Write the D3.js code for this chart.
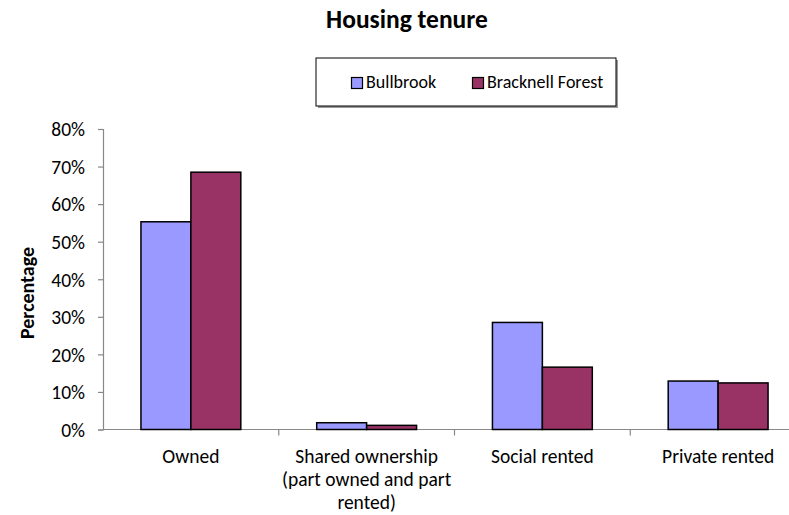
<!DOCTYPE html>
<html><head><meta charset="utf-8">
<script src="https://cdn.jsdelivr.net/npm/d3@7"></script>
<style>
html,body{margin:0;padding:0;background:#fff;}
svg{display:block;font-family:Carlito,Lato,sans-serif;}
</style></head>
<body>
<svg id="c" width="789" height="515"></svg>
<script>
const title = "Housing tenure";
const categories = [["Owned"], ["Shared ownership", "(part owned and part", "rented)"], ["Social rented"], ["Private rented"]];
const seriesNames = ["Bullbrook", "Bracknell Forest"];
const bullbrook = [55.3, 1.8, 28.5, 12.9];
const bracknellForest = [68.5, 1.1, 16.6, 12.4];
const yTicks = [0, 10, 20, 30, 40, 50, 60, 70, 80];
const colors = ["#9999FF", "#993366"];

(function () {
const svg = d3.select("#c");
const pLeft = 103, pRight = 806, pTop = 129, pBottom = 429.5;
const x = d3.scaleBand().domain(d3.range(categories.length)).range([pLeft, pRight]).paddingInner(0).paddingOuter(0);
const x1 = d3.scaleBand().domain(d3.range(seriesNames.length)).range([0, x.bandwidth()]).paddingInner(0).paddingOuter(0.76);
const y = d3.scaleLinear().domain([0, 80]).range([pBottom, pTop]);
const ff = 'Carlito,Lato,sans-serif';

// title
svg.append("text").attr("x", 407).attr("y", 28).attr("text-anchor", "middle")
  .attr("font-size", 25.5).attr("font-weight", "bold").attr("fill", "#000").text(title);

// legend
svg.append("rect").attr("x", 318).attr("y", 60).attr("width", 300).attr("height", 48).attr("fill", "#999");
svg.append("rect").attr("x", 316).attr("y", 58).attr("width", 300).attr("height", 48).attr("fill", "#fff").attr("stroke", "#000").attr("stroke-width", 1);
const legX = [351, 472];
seriesNames.forEach((s, i) => {
  svg.append("rect").attr("x", legX[i] + 0.5).attr("y", 77.5).attr("width", 11).attr("height", 11)
    .attr("fill", colors[i]).attr("stroke", "#000").attr("stroke-width", 1.2);
  svg.append("text").attr("x", legX[i] + 15).attr("y", 88).attr("font-size", 18).attr("fill", "#000").text(s);
});

// y axis
const yAxis = d3.axisLeft(y).tickValues(yTicks).tickFormat(d => d + "%").tickSize(5).tickPadding(13);
const ga = svg.append("g").attr("transform", `translate(${pLeft},0)`).call(yAxis);
ga.select(".domain").attr("stroke", "#888").attr("stroke-width", 1.2);
ga.selectAll(".tick line").attr("stroke", "#888").attr("stroke-width", 1.2);
ga.selectAll(".tick text").attr("font-size", 19.5).attr("font-family", ff).attr("fill", "#000").attr("dy", "0.35em");

// x axis
svg.append("line").attr("x1", pLeft).attr("x2", 789).attr("y1", pBottom).attr("y2", pBottom)
  .attr("stroke", "#888").attr("stroke-width", 1.2);
categories.forEach((c, i) => {
  if (i > 0) svg.append("line").attr("x1", x(i)).attr("x2", x(i)).attr("y1", pBottom).attr("y2", pBottom + 6)
    .attr("stroke", "#888").attr("stroke-width", 1.2);
});

// bars
const series = [bullbrook, bracknellForest];
series.forEach((vals, si) => {
  svg.append("g").selectAll("rect").data(vals).join("rect")
    .attr("x", (d, i) => x(i) + x1(si))
    .attr("y", d => y(d))
    .attr("width", x1.bandwidth())
    .attr("height", d => y(0) - y(d))
    .attr("fill", colors[si]).attr("stroke", "#000").attr("stroke-width", 1.5);
});

// category labels
categories.forEach((lines, i) => {
  const t = svg.append("text").attr("text-anchor", "middle").attr("font-size", 19.5).attr("fill", "#000");
  lines.forEach((l, j) => {
    t.append("tspan").attr("x", x(i) + x.bandwidth() / 2).attr("y", 462.5 + j * 23).text(l);
  });
});

// y label
svg.append("text").attr("transform", "translate(34,293) rotate(-90)").attr("text-anchor", "middle")
  .attr("font-size", 20).attr("font-weight", "bold").attr("fill", "#000").text("Percentage");
})();
</script>
</body></html>
